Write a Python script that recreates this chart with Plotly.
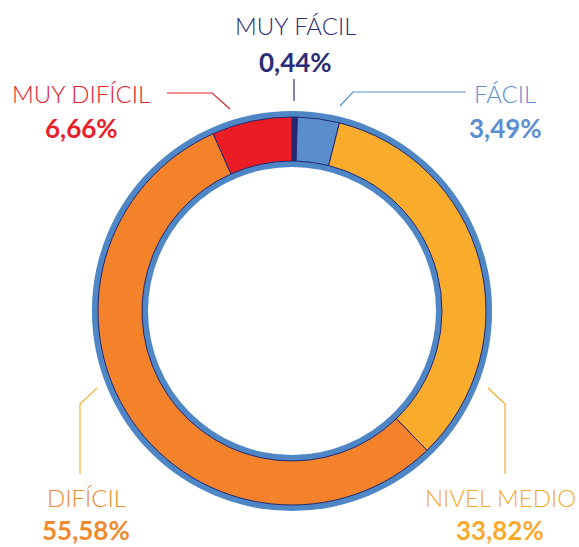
import plotly.graph_objects as go

# ---- data ----
categories = ["MUY FÁCIL", "FÁCIL", "NIVEL MEDIO", "DIFÍCIL", "MUY DIFÍCIL"]
values = [0.44, 3.49, 33.82, 55.58, 6.66]
value_labels = ["0,44%", "3,49%", "33,82%", "55,58%", "6,66%"]

slice_colors = ["#24286f", "#5a8dcc", "#f9ab2b", "#f4822b", "#ec1c24"]
text_colors = ["#2b2d78", "#5b8fd0", "#f9aa2a", "#f08a2e", "#e8202a"]
line_colors = ["#2b2d78", "#5b8fd0", "#f9aa2a", "#f9b03a", "#e8202a"]

W, H = 579, 547
CX, CY = 292, 311  # pixel centre of the ring


def dom(r):
    return dict(x=[(CX - r) / W, (CX + r) / W],
                y=[(H - CY - r) / H, (H - CY + r) / H])


fig = go.Figure()
# blue outline ring
fig.add_trace(go.Pie(values=[1], labels=["borde"], hole=144 / 200, domain=dom(200),
                     marker=dict(colors=["#4f86c5"], line=dict(width=0)),
                     textinfo="none", hoverinfo="skip", sort=False, showlegend=False))
# coloured ring
fig.add_trace(go.Pie(values=values, labels=categories, hole=150 / 194, domain=dom(194),
                     marker=dict(colors=slice_colors, line=dict(color="#24286f", width=1)),
                     textinfo="none", sort=False, direction="clockwise", rotation=0,
                     showlegend=False))

# label positions (pixels): name centre, value centre
label_pos = {
    "MUY FÁCIL": (295, 26, 295, 62),
    "FÁCIL": (505, 93, 505, 128),
    "NIVEL MEDIO": (500, 497, 500, 530),
    "DIFÍCIL": (86, 497, 86, 530),
    "MUY DIFÍCIL": (81, 93, 81, 128),
}
leaders = {
    "MUY FÁCIL": [(294, 79), (294, 101)],
    "FÁCIL": [(466, 92), (353, 92), (340, 106)],
    "NIVEL MEDIO": [(505, 474), (505, 404), (488, 388)],
    "DIFÍCIL": [(80, 474), (80, 404), (97, 388)],
    "MUY DIFÍCIL": [(167, 93), (212, 93), (230, 109)],
}

ann = []
shapes = []
for i, c in enumerate(categories):
    nx, ny, vx, vy = label_pos[c]
    ann.append(dict(text=c, x=nx / W, y=1 - ny / H, xref="paper", yref="paper",
                    xanchor="center", yanchor="middle", showarrow=False,
                    font=dict(family="Lato", size=24, color=text_colors[i], weight=300)))
    ann.append(dict(text=value_labels[i], x=vx / W, y=1 - vy / H, xref="paper", yref="paper",
                    xanchor="center", yanchor="middle", showarrow=False,
                    font=dict(family="Lato", size=26, color=text_colors[i], weight=700)))
    pts = leaders[c]
    path = "M " + " L ".join(f"{px / W:.5f},{1 - py / H:.5f}" for px, py in pts)
    shapes.append(dict(type="path", path=path, xref="paper", yref="paper",
                       line=dict(color=line_colors[i], width=1.2)))

fig.update_layout(width=W, height=H, margin=dict(l=0, r=0, t=0, b=0),
                  paper_bgcolor="white", plot_bgcolor="white",
                  annotations=ann, shapes=shapes, showlegend=False)
fig.write_html("out.html", config={"displayModeBar": False},
               post_script="document.body.style.margin='0';")
